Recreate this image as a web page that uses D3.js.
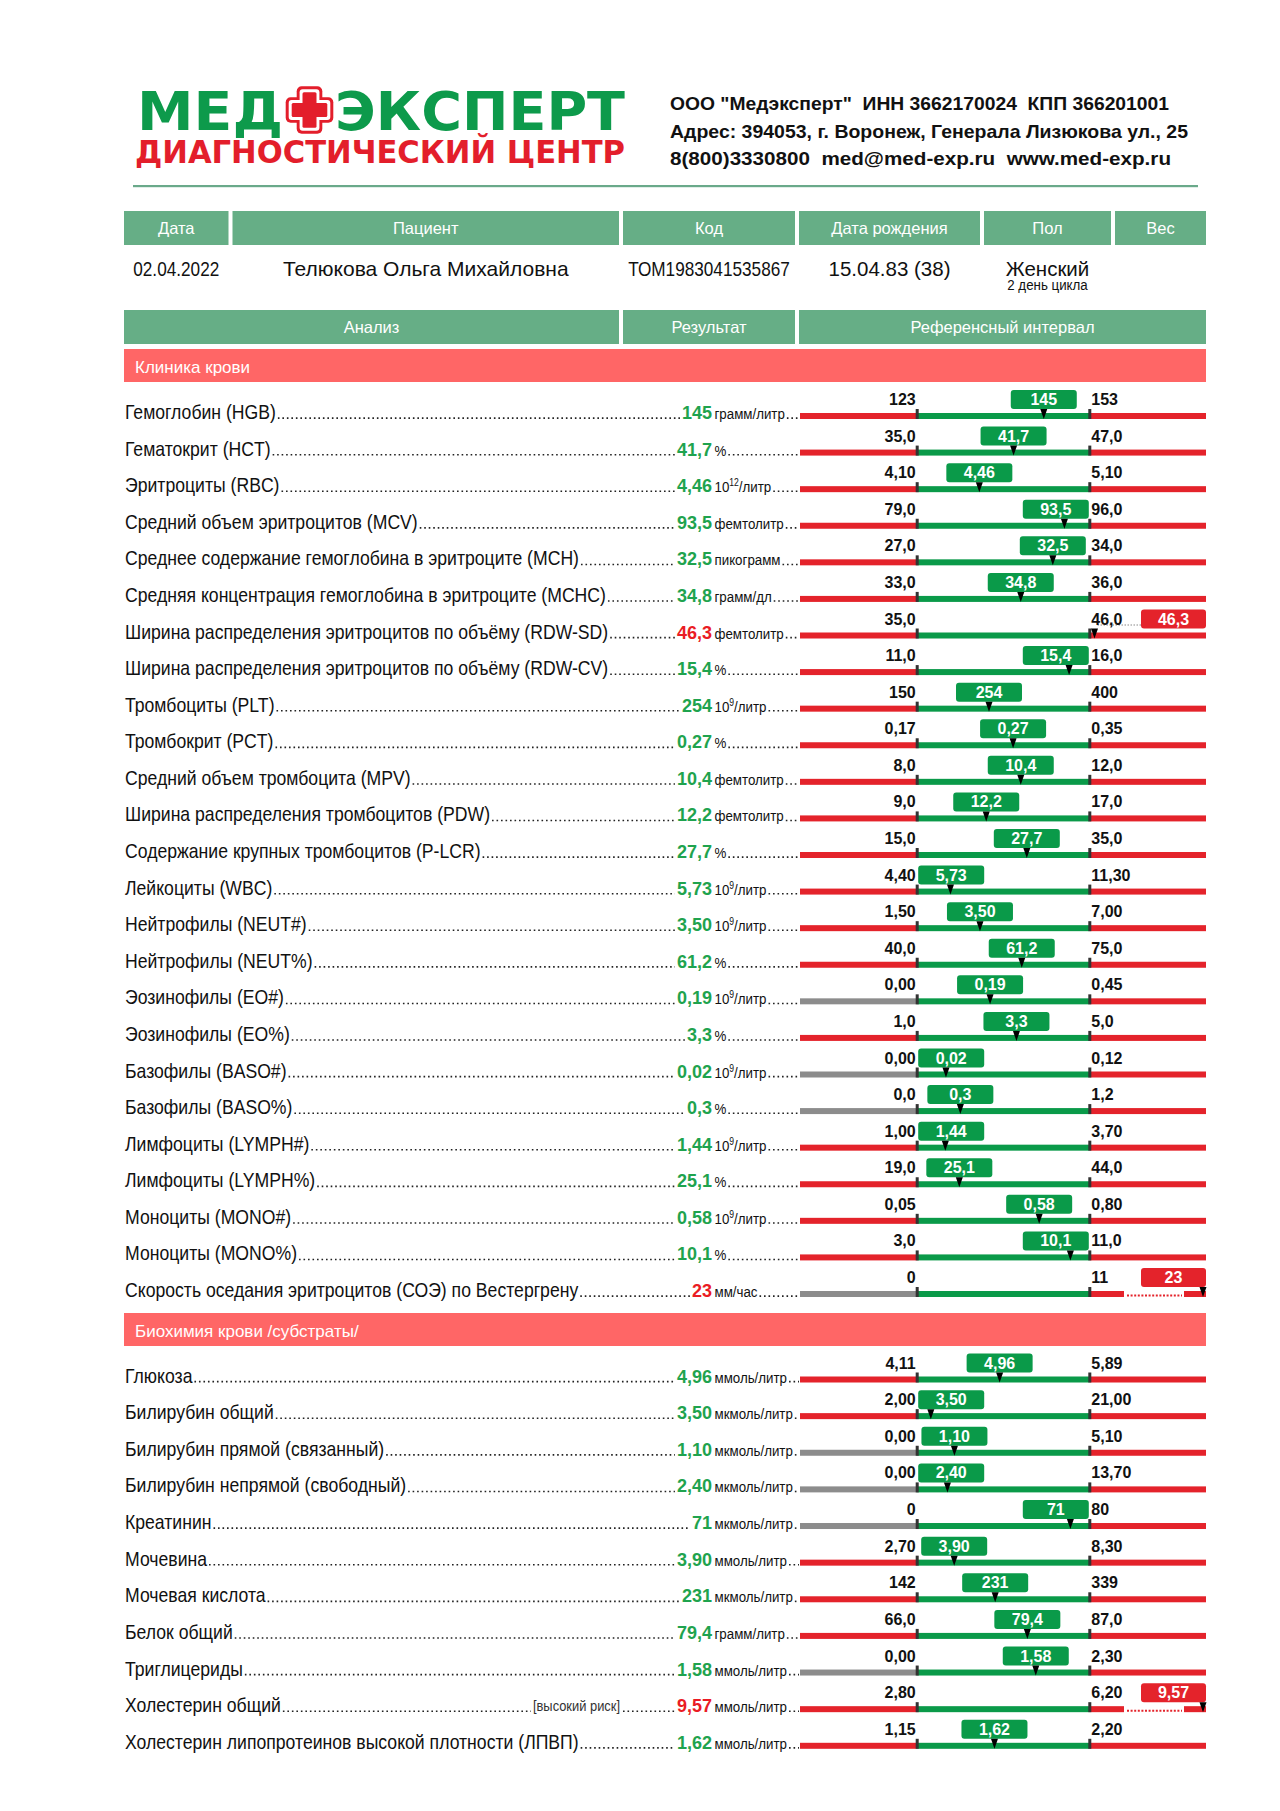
<!DOCTYPE html>
<html><head><meta charset="utf-8">
<script src="https://cdn.jsdelivr.net/npm/d3@7"></script>
<style>
body{margin:0;background:#fff;}
svg{display:block;}
text{white-space:pre;}
</style></head><body>
<svg id="c" width="1280" height="1811"></svg>
<script>
// ---------- DATA ----------
const companyLines = ['ООО "Медэксперт"  ИНН 3662170024  КПП 366201001','Адрес: 394053, г. Воронеж, Генерала Лизюкова ул., 25','8(800)3330800  med@med-exp.ru  www.med-exp.ru'];
const patientHeaders = ["Дата","Пациент","Код","Дата рождения","Пол","Вес"];
const patientValues = ["02.04.2022","Телюкова Ольга Михайловна","ТОМ1983041535867","15.04.83 (38)","Женский",""];
const patientNote = "2 день цикла";
const tableHeaders = ["Анализ","Результат","Референсный интервал"];
const sections = ["Клиника крови","Биохимия крови /субстраты/"];

const clinNames = ["Гемоглобин (HGB)","Гематокрит (HCT)","Эритроциты (RBC)","Средний объем эритроцитов (MCV)","Среднее содержание гемоглобина в эритроците (MCH)","Средняя концентрация гемоглобина в эритроците (MCHC)","Ширина распределения эритроцитов по объёму (RDW-SD)","Ширина распределения эритроцитов по объёму (RDW-CV)","Тромбоциты (PLT)","Тромбокрит (PCT)","Средний объем тромбоцита (MPV)","Ширина распределения тромбоцитов (PDW)","Содержание крупных тромбоцитов (P-LCR)","Лейкоциты (WBC)","Нейтрофилы (NEUT#)","Нейтрофилы (NEUT%)","Эозинофилы (EO#)","Эозинофилы (EO%)","Базофилы (BASO#)","Базофилы (BASO%)","Лимфоциты (LYMPH#)","Лимфоциты (LYMPH%)","Моноциты (MONO#)","Моноциты (MONO%)","Скорость оседания эритроцитов (СОЭ) по Вестергрену"];
const clinValues = [145,41.7,4.46,93.5,32.5,34.8,46.3,15.4,254,0.27,10.4,12.2,27.7,5.73,3.50,61.2,0.19,3.3,0.02,0.3,1.44,25.1,0.58,10.1,23];
const clinDecimals = [0,1,2,1,1,1,1,1,0,2,1,1,1,2,2,1,2,1,2,1,2,1,2,1,0];
const clinLow = [123,35.0,4.10,79.0,27.0,33.0,35.0,11.0,150,0.17,8.0,9.0,15.0,4.40,1.50,40.0,0.00,1.0,0.00,0.0,1.00,19.0,0.05,3.0,0];
const clinHigh = [153,47.0,5.10,96.0,34.0,36.0,46.0,16.0,400,0.35,12.0,17.0,35.0,11.30,7.00,75.0,0.45,5.0,0.12,1.2,3.70,44.0,0.80,11.0,11];
const clinUnits = ["грамм/литр","%","10^12/литр","фемтолитр","пикограмм","грамм/дл","фемтолитр","%","10^9/литр","%","фемтолитр","фемтолитр","%","10^9/литр","10^9/литр","%","10^9/литр","%","10^9/литр","%","10^9/литр","%","10^9/литр","%","мм/час"];
const clinNotes = clinNames.map(() => "");

const bioNames = ["Глюкоза","Билирубин общий","Билирубин прямой (связанный)","Билирубин непрямой (свободный)","Креатинин","Мочевина","Мочевая кислота","Белок общий","Триглицериды","Холестерин общий","Холестерин липопротеинов высокой плотности (ЛПВП)"];
const bioValues = [4.96,3.50,1.10,2.40,71,3.90,231,79.4,1.58,9.57,1.62];
const bioDecimals = [2,2,2,2,0,2,0,1,2,2,2];
const bioLow = [4.11,2.00,0.00,0.00,0,2.70,142,66.0,0.00,2.80,1.15];
const bioHigh = [5.89,21.00,5.10,13.70,80,8.30,339,87.0,2.30,6.20,2.20];
const bioUnits = ["ммоль/литр","мкмоль/литр","мкмоль/литр","мкмоль/литр","мкмоль/литр","ммоль/литр","мкмоль/литр","грамм/литр","ммоль/литр","ммоль/литр","ммоль/литр"];
const bioNotes = ["","","","","","","","","","[высокий риск]",""];

// ---------- STYLE ----------
const C = {
  logoGreen:"#0d9a4b", logoRed:"#e31e2b", rule:"#6aa98a",
  head:"#66ae86", section:"#ff6666",
  barGreen:"#0a9a49", barRed:"#e4232b", barGrey:"#8c8c8c", tick:"#333",
  valGreen:"#1fa34e", valRed:"#ea1c24", boxGreen:"#0a9a49", boxRed:"#e4232b"
};
const REG = "'Liberation Sans',Arial,sans-serif";
const NF = 0.86; // horizontal condensing for the narrow face

const svg = d3.select("#c");

function ntext(g, x, y, size, str, opts={}){
  const f = opts.f || NF;
  const t = g.append("text").attr("transform",`translate(${x},${y}) scale(${f},1)`)
    .attr("font-family",REG).attr("font-size",size).attr("fill",opts.fill||"#111");
  if (opts.anchor) t.attr("text-anchor",opts.anchor);
  if (str !== null) t.text(str);
  return t;
}

// ---------- LOGO ----------
const logo = svg.append("g");
logo.append("text").attr("x",137).attr("y",130).attr("font-family","'DejaVu Sans',sans-serif")
  .attr("font-weight","bold").attr("font-size",53.5).attr("fill",C.logoGreen)
  .attr("textLength",146).attr("lengthAdjust","spacingAndGlyphs").text("МЕД");
logo.append("text").attr("x",335).attr("y",130).attr("font-family","'DejaVu Sans',sans-serif")
  .attr("font-weight","bold").attr("font-size",53.5).attr("fill",C.logoGreen)
  .attr("textLength",290).attr("lengthAdjust","spacingAndGlyphs").text("ЭКСПЕРТ");
logo.append("text").attr("x",135).attr("y",162.5).attr("font-family","'DejaVu Sans',sans-serif")
  .attr("font-weight","bold").attr("font-size",32).attr("fill",C.logoRed)
  .attr("textLength",490).attr("lengthAdjust","spacingAndGlyphs").text("ДИАГНОСТИЧЕСКИЙ ЦЕНТР");
function plus(g,cx,cy,e,h,r,fill){
  g.append("rect").attr("x",cx-h).attr("y",cy-e).attr("width",2*h).attr("height",2*e).attr("rx",r).attr("fill",fill);
  g.append("rect").attr("x",cx-e).attr("y",cy-h).attr("width",2*e).attr("height",2*h).attr("rx",r).attr("fill",fill);
}
plus(logo,309.5,110,23.8,12.8,5,C.logoRed);
plus(logo,309.5,110,20.8,9.9,3,"#fff");
plus(logo,309.5,110,17.8,7,1.5,C.logoRed);

const compLen = [499,518,501];
svg.append("g").selectAll("text").data(companyLines).join("text")
  .attr("x",670).attr("y",(d,i)=>[109.5,137.5,165][i]).attr("font-family",REG).attr("font-weight","bold")
  .attr("font-size",19).attr("fill","#111")
  .attr("textLength",(d,i)=>compLen[i]).attr("lengthAdjust","spacingAndGlyphs").text(d=>d);
svg.append("rect").attr("x",133).attr("y",185).attr("width",1065).attr("height",2.2).attr("fill",C.rule);

// ---------- PATIENT TABLE ----------
const pCols = [[124,228.5],[232.5,619],[623,795],[799,980],[984,1111],[1115,1206]];
const pt = svg.append("g");
pt.selectAll("rect").data(pCols).join("rect").attr("x",d=>d[0]).attr("y",211).attr("width",d=>d[1]-d[0]).attr("height",34).attr("fill",C.head);
pt.selectAll("text.h").data(patientHeaders).join("text").attr("class","h")
  .attr("x",(d,i)=>(pCols[i][0]+pCols[i][1])/2).attr("y",234).attr("text-anchor","middle")
  .attr("font-family",REG).attr("font-size",16.5).attr("fill","#fff").text(d=>d);
patientValues.forEach((d,i) => {
  const cx = (pCols[i][0]+pCols[i][1])/2;
  if (i===0 || i===2) ntext(pt, cx, 276, 20, d, {anchor:"middle", f:0.86});
  else pt.append("text").attr("x",cx).attr("y",276).attr("text-anchor","middle")
    .attr("font-family",REG).attr("font-size", i===1?21:20.5).attr("fill","#111").text(d);
});
ntext(pt,(pCols[4][0]+pCols[4][1])/2,290,15.5,patientNote,{anchor:"middle",f:0.86});

const tCols = [[124,619],[623,795],[799,1206]];
pt.selectAll("rect.t").data(tCols).join("rect").attr("class","t").attr("x",d=>d[0]).attr("y",310).attr("width",d=>d[1]-d[0]).attr("height",34).attr("fill",C.head);
pt.selectAll("text.t").data(tableHeaders).join("text").attr("class","t")
  .attr("x",(d,i)=>(tCols[i][0]+tCols[i][1])/2).attr("y",333).attr("text-anchor","middle")
  .attr("font-family",REG).attr("font-size",16.5).attr("fill","#fff").text(d=>d);

// ---------- SECTIONS ----------
function sectionHeader(title, y){
  svg.append("rect").attr("x",124).attr("y",y).attr("width",1082).attr("height",33).attr("fill",C.section);
  svg.append("text").attr("x",135).attr("y",y+23.5).attr("font-family",REG).attr("font-size",17)
    .attr("fill","#fff").text(title);
}

const fmt = (v,d) => d3.format(`.${d}f`)(v).replace(".",",");
const X0 = 800, XL = 917.2, XR = 1089.8, X1 = 1206;

function dots(g, xa, xb, y){
  if (xb - xa < 2) return;
  g.append("line").attr("x1",xa).attr("x2",xb).attr("y1",y).attr("y2",y)
    .attr("stroke","#222").attr("stroke-width",1.6).attr("stroke-dasharray","1.6,2.9");
}

function drawRows(names, values, decs, lows, highs, units, notes, yScale){
  names.forEach((name,i) => {
    const g = svg.append("g");
    const yb = yScale(i);
    const v = values[i], lo = lows[i], hi = highs[i], dc = decs[i];
    const isHigh = v > hi, isLow = v < lo;
    const bad = isHigh || isLow;
    const base = yb + 3;

    const t = ntext(g, 125, base, 20.5, name);
    const nameEnd = 125 + t.node().getComputedTextLength()*NF;
    const vt = g.append("text").attr("x",712).attr("y",base).attr("text-anchor","end")
      .attr("font-family",REG).attr("font-weight","bold").attr("font-size",18)
      .attr("fill", bad?C.valRed:C.valGreen).text(fmt(v,dc));
    const valStart = 712 - vt.node().getComputedTextLength();
    const ut = ntext(g, 714.5, base, 15.5, null);
    const m = units[i].match(/^10\^(\d+)(.*)$/);
    if (m){
      ut.append("tspan").text("10");
      ut.append("tspan").attr("dy",-6).attr("font-size",10).text(m[1]);
      ut.append("tspan").attr("dy",6).text(m[2]);
    } else ut.text(units[i]);
    const unitEnd = 714.5 + ut.node().getComputedTextLength()*NF;
    const dy = base - 0.9;
    if (notes[i]){
      const nt = ntext(g, 620, base-1, 15, notes[i], {anchor:"end", fill:"#333"});
      const nw = nt.node().getComputedTextLength()*NF;
      dots(g, nameEnd+2, 620-nw-2, dy);
      dots(g, 623, valStart-2, dy);
    } else {
      dots(g, nameEnd+2, valStart-2, dy);
    }
    dots(g, unitEnd+2, X0-1, dy);

    const x = d3.scaleLinear().domain([lo,hi]).range([XL,XR]);
    const brk = x(v) > X1 - 4;
    g.append("rect").attr("x",X0).attr("y",yb-3).attr("width",XL-X0).attr("height",6)
      .attr("fill", lo===0 ? C.barGrey : C.barRed);
    g.append("rect").attr("x",XL).attr("y",yb-3).attr("width",XR-XL).attr("height",6).attr("fill",C.barGreen);
    if (brk){
      g.append("rect").attr("x",XR).attr("y",yb-3).attr("width",1124-XR).attr("height",6).attr("fill",C.barRed);
      g.append("line").attr("x1",1127).attr("x2",1182).attr("y1",yb+1.5).attr("y2",yb+1.5)
        .attr("stroke",C.barRed).attr("stroke-width",2).attr("stroke-dasharray","2,1.6");
      g.append("rect").attr("x",1184).attr("y",yb-3).attr("width",X1-1184).attr("height",6).attr("fill",C.barRed);
    } else {
      g.append("rect").attr("x",XR).attr("y",yb-3).attr("width",X1-XR).attr("height",6).attr("fill",C.barRed);
    }
    [lo,hi].forEach(d => g.append("rect").attr("x",x(d)-1.5).attr("y",yb-7).attr("width",3).attr("height",10).attr("fill",C.tick));

    const mx = brk ? X1 - 3 : x(v);
    if (isHigh && !brk){
      g.append("line").attr("x1",mx+3).attr("x2",1141).attr("y1",yb-10.5).attr("y2",yb-10.5)
        .attr("stroke","#888").attr("stroke-width",1).attr("stroke-dasharray","1.5,1.5");
    }
    g.append("text").attr("x",XL-1.5).attr("y",yb-11).attr("text-anchor","end")
      .attr("font-family",REG).attr("font-weight","bold").attr("font-size",16).attr("fill","#111").text(fmt(lo,dc));
    g.append("text").attr("x",XR+1.5).attr("y",yb-11)
      .attr("font-family",REG).attr("font-weight","bold").attr("font-size",16).attr("fill","#111").text(fmt(hi,dc));

    const bw = 66;
    let bx;
    if (isHigh) bx = X1 - 65;
    else bx = Math.max(XL+1, Math.min(XR-1-bw, mx - bw/2));
    g.append("rect").attr("x",bx).attr("y",yb-26).attr("width", isHigh?65:bw).attr("height",19).attr("rx",3)
      .attr("fill", isHigh?C.boxRed:C.boxGreen);
    g.append("text").attr("x",bx+(isHigh?65:bw)/2).attr("y",yb-11).attr("text-anchor","middle")
      .attr("font-family",REG).attr("font-weight","bold").attr("font-size",16).attr("fill","#fff").text(fmt(v,dc));
    g.append("path").attr("d",`M${mx-3.5},${yb-7}L${mx+3.5},${yb-7}L${mx},${yb+3}Z`).attr("fill","#000");
  });
}

sectionHeader(sections[0], 349);
const yClin = d3.scaleLinear().domain([0, clinNames.length-1]).range([416, 1294]);
drawRows(clinNames, clinValues, clinDecimals, clinLow, clinHigh, clinUnits, clinNotes, yClin);

sectionHeader(sections[1], 1313);
const yBio = d3.scaleLinear().domain([0, bioNames.length-1]).range([1379.5, 1745.8]);
drawRows(bioNames, bioValues, bioDecimals, bioLow, bioHigh, bioUnits, bioNotes, yBio);
</script>
</body></html>
